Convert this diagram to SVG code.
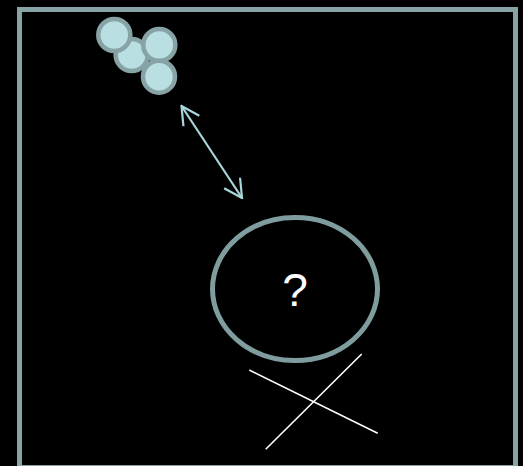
<svg xmlns="http://www.w3.org/2000/svg" width="523" height="466" viewBox="0 0 523 466">
<defs>
<style>
.ball{fill:#b9dfe2;stroke:#87a3a5;stroke-width:4.5}
.cross{stroke:#ffffff;stroke-width:1.6;fill:none}
</style>
<marker id="ah" viewBox="0 0 22 22" refX="20.5" refY="11" markerWidth="22" markerHeight="22" markerUnits="userSpaceOnUse" orient="auto-start-reverse">
<path d="M2.5,1.5 L20.5,11 L2.5,20.5" fill="none" stroke="#a9d6da" stroke-width="2.2"/>
</marker>
</defs>
<rect x="0" y="0" width="523" height="466" fill="#000"/>
<rect id="frame" x="19.5" y="9.5" width="496" height="458" fill="none" stroke="#87a3a5" stroke-width="5"/>
<g id="cluster">
<circle class="ball" cx="131.7" cy="55" r="16"/>
<circle class="ball" cx="114.3" cy="35" r="16"/>
<circle class="ball" cx="159.3" cy="45" r="16"/>
<circle class="ball" cx="159" cy="76.7" r="16"/>
</g>
<g id="connectors">
<line x1="181.5" y1="106" x2="242" y2="198" stroke="#a9d6da" stroke-width="2.2" marker-start="url(#ah)" marker-end="url(#ah)"/>
</g>
<g id="cell">
<ellipse cx="295" cy="289" rx="82.5" ry="71.5" fill="none" stroke="#7f9c9e" stroke-width="5"/>
<text x="295" y="306" text-anchor="middle" font-family="Liberation Sans, Arial, sans-serif" font-size="46" fill="#ffffff">?</text>
</g>
<g id="cross">
<line class="cross" x1="249.3" y1="370" x2="377.7" y2="433.3"/>
<line class="cross" x1="361.7" y1="354" x2="265.7" y2="449.3"/>
</g>
</svg>
